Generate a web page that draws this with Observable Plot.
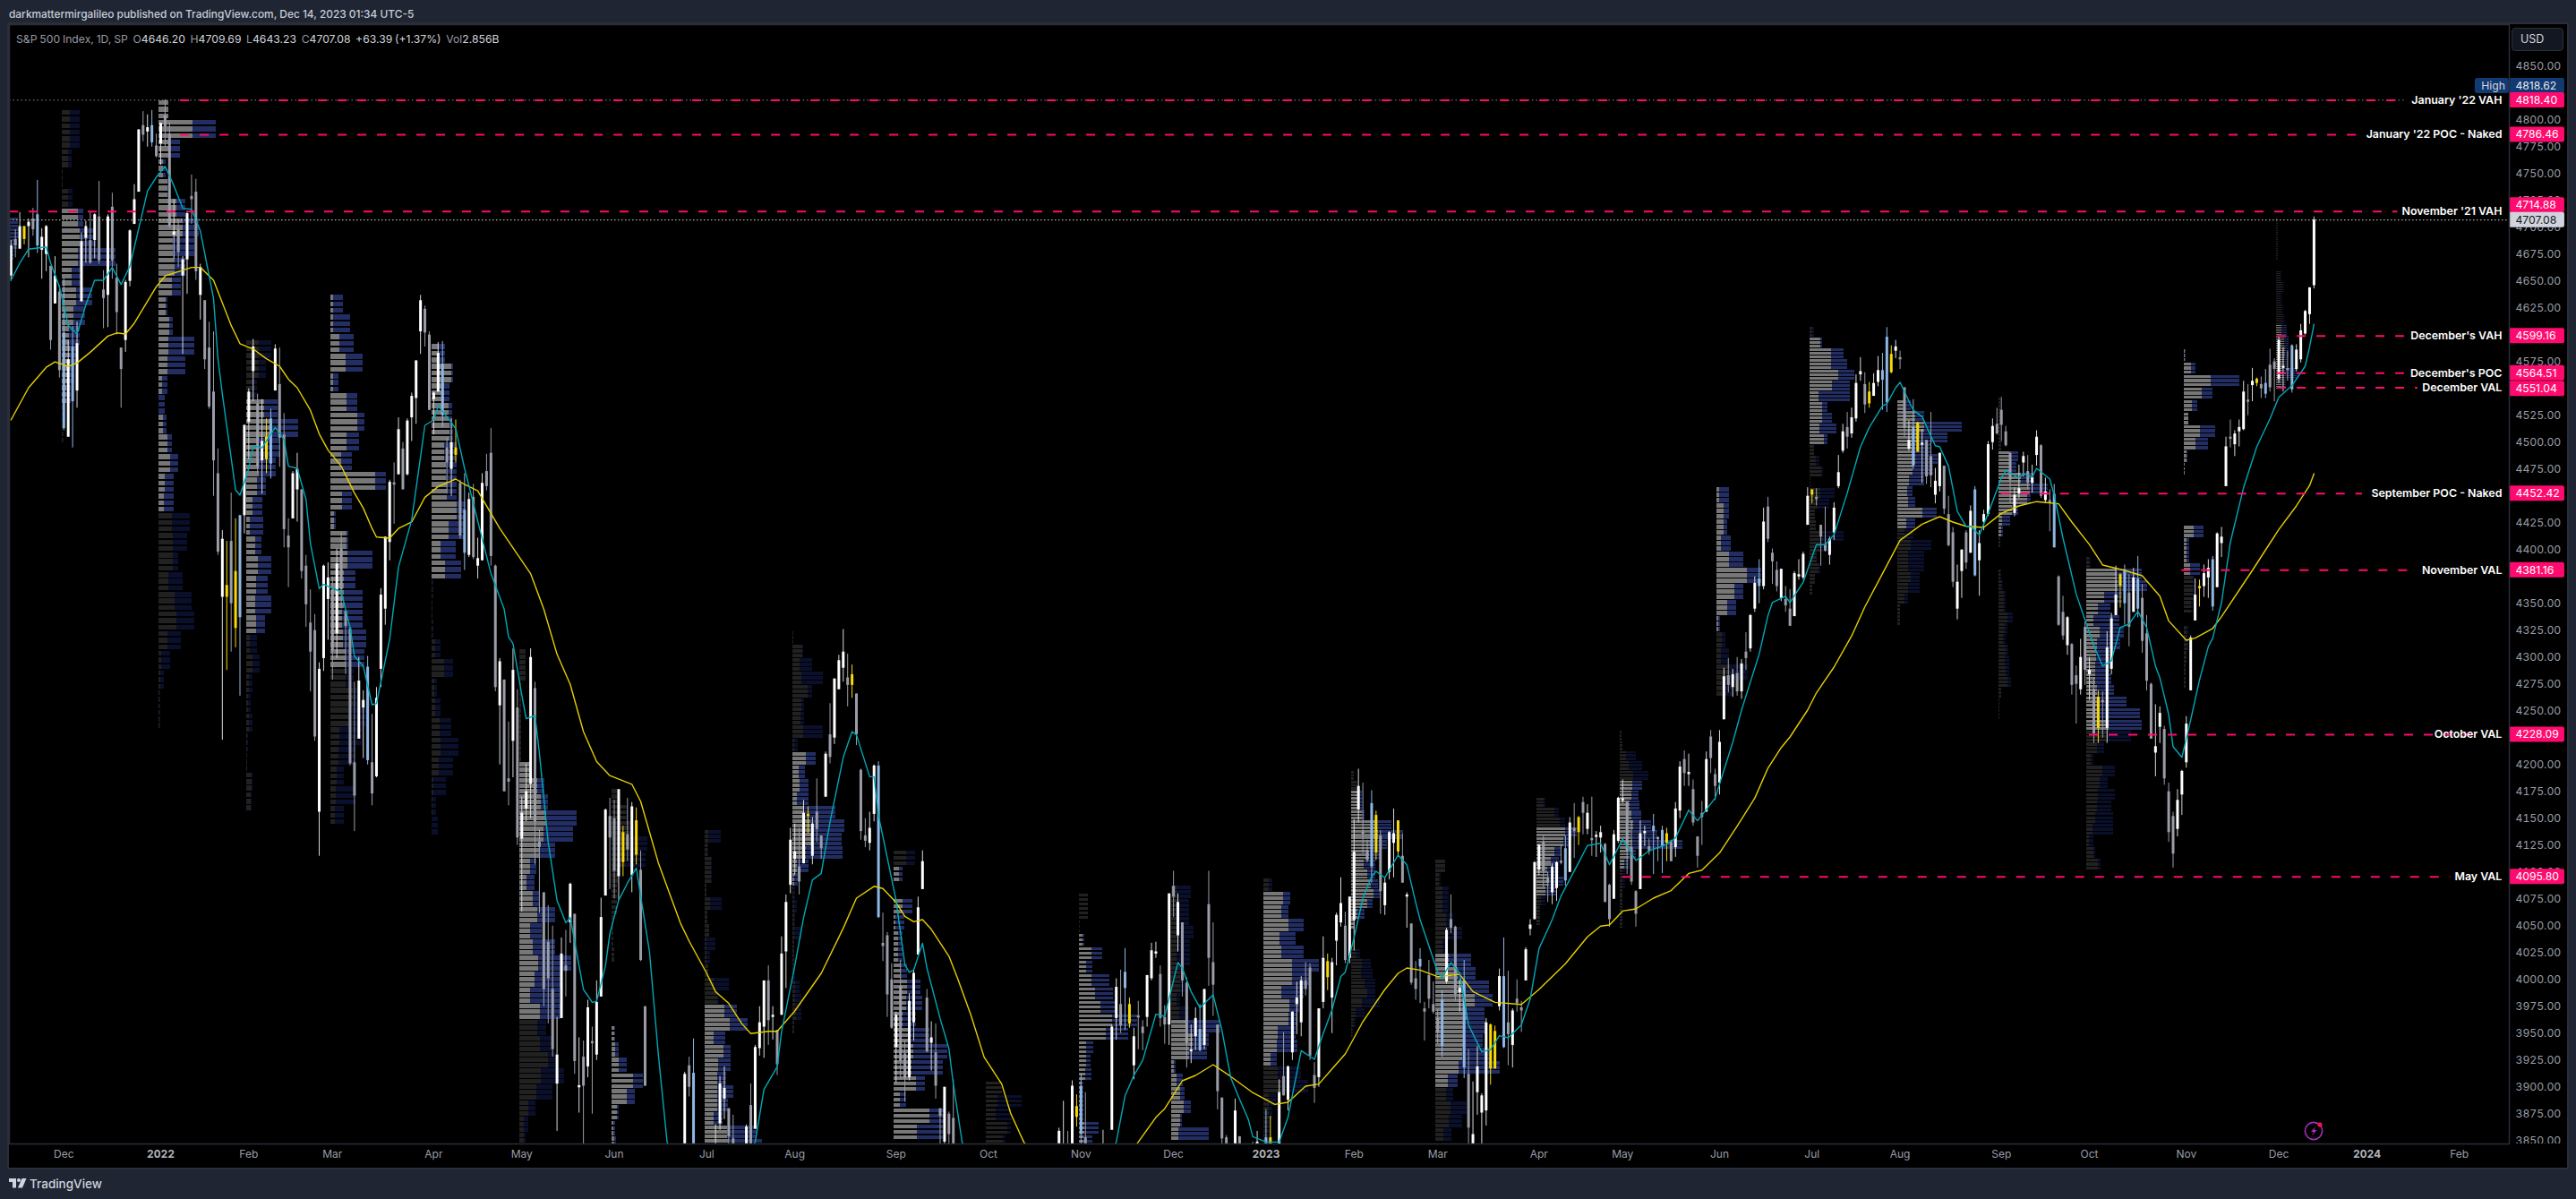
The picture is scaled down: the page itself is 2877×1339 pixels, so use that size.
<!DOCTYPE html>
<html><head><meta charset="utf-8">
<script src="https://cdn.jsdelivr.net/npm/d3@7"></script>
<script src="https://cdn.jsdelivr.net/npm/@observablehq/plot@0.6"></script>
<style>
html,body{margin:0;padding:0;background:#1f2533;width:2877px;height:1339px;overflow:hidden;font-family:Inter,sans-serif}
.abs{position:absolute;white-space:pre}
#chart svg{position:absolute;left:10px;top:27px;outline:2px solid #2a2e39;outline-offset:0}
.k{color:#9598a1}.v{color:#d1d4dc}
</style></head><body>
<div class="abs" style="left:10px;top:8px;font-size:11.9px;font-weight:500;color:#c9ccd6">darkmattermirgalileo published on TradingView.com, Dec 14, 2023 01:34 UTC-5</div>
<div id="chart"></div>
<div class="abs" style="left:18px;top:36px;font-size:12.2px;word-spacing:-0.6px"><span class="k">S&amp;P 500 Index, 1D, SP  O</span><span class="v">4646.20</span><span class="k">  H</span><span class="v">4709.69</span><span class="k">  L</span><span class="v">4643.23</span><span class="k">  C</span><span class="v">4707.08</span><span class="v">  +63.39 (+1.37%)</span><span class="k">  Vol</span><span class="v">2.856B</span></div>
<div class="abs" style="left:2805px;top:31px;width:58px;height:26px;box-sizing:border-box;background:#131722;border:1px solid #2a2e39;border-radius:4px;color:#d1d4dc;font-size:12.5px;line-height:24px;padding-left:9px">USD</div>
<svg class="abs" style="left:2572px;top:1251px" width="24" height="24" viewBox="0 0 24 24"><circle cx="12" cy="12" r="9.6" fill="none" stroke="#a62fb5" stroke-width="1.6"/><path d="M14 7 L9 13 H12 L10 17.5 L15.5 11 H12.5 Z" fill="#a62fb5"/><circle cx="19" cy="5" r="2.6" fill="#f7134f"/></svg>
<svg class="abs" style="left:10px;top:1316px" width="20" height="12" viewBox="0 0 20 12"><path d="M0 0H8V10.5H4V4H0Z" fill="#d1d4dc"/><circle cx="11" cy="2" r="2" fill="#d1d4dc"/><path d="M14.5 0H19.5L15 10.5H10Z" fill="#d1d4dc"/></svg>
<div class="abs" style="left:33px;top:1314px;font-size:13.5px;font-weight:500;color:#d1d4dc">TradingView</div>
<script>
// Daily candles, one small list per month: open, high, low, close
const m2111=[4655,4688,4650,4683,4689,4698,4672,4683,4680,4714,4680,4701,4701,4701,4684,4689,4701,4708,4672,4705,4708,4718,4692,4698,4712,4744,4676,4683,4679,4699,4652,4691,4675,4702,4659,4701,4664,4664,4586,4595,4629,4673,4629,4655,4640,4646,4560,4567];
const m2112=[4602,4652,4511,4513,4505,4595,4505,4577,4589,4608,4495,4538,4548,4612,4532,4592,4631,4695,4631,4687,4690,4706,4667,4701,4688,4714,4666,4667,4688,4713,4671,4712,4710,4743,4666,4669,4642,4660,4606,4634,4637,4712,4607,4710,4719,4732,4652,4669,4653,4666,4600,4621,4588,4588,4532,4568,4595,4651,4584,4649,4650,4698,4645,4697,4703,4740,4703,4726,4733,4791,4733,4791,4795,4808,4780,4786,4789,4805,4775,4793,4795,4809,4775,4779,4776,4787,4765,4766];
const m2201=[4778,4797,4758,4797,4804,4819,4775,4794,4787,4798,4699,4701,4693,4726,4671,4696,4698,4707,4663,4677,4655,4673,4582,4670,4670,4715,4638,4713,4729,4749,4703,4726,4733,4745,4651,4659,4637,4666,4614,4663,4632,4632,4568,4577,4588,4612,4531,4533,4547,4603,4450,4483,4471,4494,4395,4398,4356,4418,4223,4410,4367,4408,4288,4356,4408,4453,4305,4350,4380,4429,4309,4327,4337,4432,4264,4432,4432,4516,4415,4516];
const m2202=[4519,4550,4484,4547,4566,4596,4538,4589,4536,4545,4471,4477,4483,4540,4452,4501,4505,4522,4471,4484,4480,4531,4466,4522,4548,4591,4548,4587,4554,4588,4477,4504,4507,4527,4402,4419,4413,4429,4365,4402,4429,4473,4429,4471,4456,4490,4426,4475,4456,4456,4373,4380,4385,4395,4328,4349,4332,4363,4268,4305,4325,4340,4222,4226,4156,4295,4115,4289,4299,4386,4287,4385,4354,4388,4316,4374];
const m2203=[4363,4375,4279,4306,4322,4401,4299,4387,4401,4416,4345,4363,4343,4343,4284,4329,4327,4327,4199,4201,4202,4277,4138,4171,4224,4300,4224,4278,4253,4269,4206,4260,4291,4301,4200,4204,4202,4247,4162,4173,4189,4272,4188,4262,4289,4364,4272,4358,4345,4412,4330,4412,4407,4465,4390,4463,4462,4481,4424,4461,4470,4523,4470,4512,4494,4500,4456,4456,4470,4522,4469,4520,4523,4546,4501,4543,4541,4576,4517,4576,4603,4637,4582,4632,4624,4627,4589,4602,4600,4603,4530,4530];
const m2204=[4540,4547,4507,4546,4547,4593,4547,4583,4573,4594,4514,4525,4495,4504,4452,4481,4475,4522,4450,4500,4495,4521,4481,4488,4462,4465,4410,4413,4437,4471,4381,4397,4395,4453,4393,4447,4449,4461,4391,4393,4385,4411,4373,4392,4390,4471,4390,4462,4473,4489,4455,4459,4490,4513,4385,4394,4385,4386,4268,4272,4255,4299,4200,4296,4279,4279,4175,4175,4187,4240,4162,4184,4222,4308,4188,4288,4253,4270,4125,4132];
const m2205=[4131,4170,4063,4155,4159,4201,4147,4175,4182,4308,4150,4300,4271,4277,4107,4147,4128,4140,4062,4123,4081,4081,3975,3991,4035,4069,3959,4001,3991,4050,3928,3935,3903,3965,3859,3930,3964,4039,3964,4024,4013,4046,3984,4008,4053,4090,4034,4089,4061,4061,3912,3924,3900,3946,3876,3901,3928,3943,3810,3901,3919,3981,3909,3974,3942,3956,3875,3941,3930,3999,3925,3979,3984,4076,3984,4058,4078,4159,4078,4158,4152,4169,4084,4132];
const m2206=[4150,4167,4075,4101,4096,4177,4074,4177,4137,4143,4096,4109,4135,4169,4110,4121,4097,4165,4081,4161,4148,4160,4107,4116,4102,4120,4017,4018,3975,3975,3901,3901,3839,3839,3740,3750,3764,3778,3722,3735,3765,3837,3723,3790,3728,3728,3640,3667,3666,3707,3637,3675,3715,3780,3715,3765,3733,3802,3717,3760,3775,3809,3748,3796,3821,3914,3821,3912,3920,3928,3891,3900,3913,3945,3820,3822,3826,3836,3800,3819,3786,3818,3738,3785];
const m2207=[3781,3829,3752,3825,3793,3832,3742,3831,3831,3865,3811,3845,3866,3910,3860,3903,3889,3919,3870,3899,3880,3880,3847,3854,3852,3874,3802,3819,3763,3828,3759,3802,3764,3796,3722,3790,3820,3865,3817,3863,3883,3903,3818,3831,3861,3939,3861,3937,3936,3975,3929,3960,3956,3999,3927,3999,3999,4013,3939,3962,3965,3975,3944,3967,3953,3953,3911,3921,3967,4040,3967,4024,4026,4079,3992,4072,4088,4141,4080,4130];
const m2208=[4112,4145,4097,4119,4105,4141,4079,4091,4108,4167,4108,4155,4154,4161,4136,4152,4115,4151,4107,4145,4156,4187,4128,4140,4134,4134,4112,4122,4170,4212,4170,4210,4228,4257,4201,4207,4225,4280,4219,4280,4270,4302,4270,4297,4290,4326,4277,4305,4281,4303,4254,4274,4274,4293,4262,4284,4266,4266,4218,4228,4195,4196,4130,4138,4134,4150,4123,4129,4127,4156,4120,4141,4154,4200,4147,4199,4199,4203,4057,4058,4034,4062,4017,4031,4041,4044,3965,3986,4000,4015,3954,3955];
const m2209=[3937,3970,3904,3967,3994,4018,3907,3924,3931,3943,3886,3908,3909,3987,3906,3980,3960,4010,3943,4006,4023,4077,4023,4067,4084,4120,4084,4110,3983,3991,3932,3933,3941,3961,3915,3946,3932,3959,3889,3901,3880,3880,3837,3873,3849,3900,3838,3900,3875,3877,3828,3856,3871,3907,3789,3790,3783,3820,3750,3758,3727,3727,3647,3693,3683,3715,3644,3655,3687,3718,3624,3647,3651,3736,3640,3719,3687,3687,3611,3640,3634,3672,3585,3586];
const m2210=[3610,3698,3604,3678,3726,3791,3726,3791,3753,3807,3722,3783,3771,3797,3742,3745,3707,3710,3631,3640,3647,3653,3588,3612,3595,3640,3568,3589,3590,3606,3570,3577,3521,3685,3491,3670,3691,3713,3583,3583,3638,3689,3638,3678,3746,3762,3687,3720,3703,3728,3666,3695,3689,3737,3656,3666,3657,3758,3647,3753,3752,3800,3709,3797,3799,3862,3799,3859,3825,3887,3824,3831,3835,3859,3804,3807,3808,3906,3804,3901,3882,3893,3863,3872];
const m2211=[3901,3912,3844,3856,3853,3895,3759,3760,3734,3750,3698,3720,3767,3796,3708,3771,3780,3814,3772,3807,3818,3860,3786,3828,3829,3830,3746,3749,3860,3958,3860,3956,3964,4001,3944,3993,3977,4009,3950,3957,4007,4029,3953,3992,3977,3983,3955,3959,3920,3955,3907,3947,3966,3980,3935,3965,3956,3962,3934,3950,3965,4004,3956,4004,4001,4034,3999,4027,4024,4035,4020,4026,4005,4013,3956,3964,3965,3976,3940,3958,3958,4080,3939,4080];
const m2212=[4087,4101,4058,4077,4041,4080,4026,4072,4053,4053,3984,3999,3997,4002,3918,3941,3934,3958,3922,3934,3947,3974,3934,3964,3954,3977,3933,3934,3939,3991,3935,3991,4070,4101,3994,4020,4016,4053,3966,3995,3958,3958,3879,3896,3890,3890,3828,3852,3853,3855,3800,3818,3810,3839,3796,3822,3839,3889,3839,3878,3854,3854,3765,3822,3816,3846,3796,3845,3843,3846,3798,3829,3829,3849,3781,3783,3805,3859,3805,3849,3829,3840,3801,3840];
const m2301=[3853,3879,3795,3824,3840,3873,3815,3853,3840,3840,3803,3808,3823,3907,3803,3895,3910,3951,3892,3892,3888,3920,3878,3919,3932,3970,3925,3970,3977,3998,3949,3983,3960,4003,3947,3999,3999,4016,3985,3991,4011,4015,3925,3929,3911,3923,3885,3899,3909,3973,3900,3973,3979,4040,3973,4020,4002,4024,3990,4017,3983,4020,3950,4016,4036,4062,4013,4060,4053,4095,4049,4071,4050,4063,4015,4018,4020,4077,4015,4077];
const m2302=[4055,4149,4027,4119,4158,4196,4146,4180,4137,4183,4117,4136,4120,4130,4109,4111,4105,4176,4090,4164,4153,4157,4111,4118,4134,4139,4061,4082,4069,4095,4060,4090,4100,4138,4093,4137,4127,4159,4095,4136,4119,4148,4114,4148,4115,4136,4090,4090,4077,4081,4048,4079,4052,4052,3995,3997,4001,4017,3981,3991,4019,4029,3978,4012,3973,3979,3943,3970,4004,4018,3973,3982,3977,3998,3968,3970];
const m2303=[3964,3972,3940,3951,3938,3990,3928,3981,3998,4048,3996,4046,4056,4079,4043,4048,4049,4050,3980,3986,3988,4000,3970,3992,3999,4018,3908,3918,3912,3935,3847,3862,3835,3905,3809,3856,3895,3938,3874,3919,3876,3894,3838,3892,3878,3964,3864,3960,3958,3959,3902,3917,3917,3957,3917,3952,3975,4010,3971,4003,4003,4039,3936,3937,3960,4008,3920,3949,3939,3973,3918,3971,3982,4000,3970,3978,3974,3980,3951,3971,3999,4030,3999,4028,4047,4056,4041,4051,4056,4110,4056,4109];
const m2304=[4102,4126,4097,4125,4128,4134,4086,4101,4094,4100,4072,4090,4081,4108,4070,4105,4085,4110,4073,4109,4110,4125,4107,4109,4122,4134,4087,4092,4100,4151,4100,4146,4141,4164,4113,4138,4137,4152,4125,4151,4165,4170,4135,4155,4140,4163,4135,4155,4131,4170,4115,4130,4133,4138,4114,4134,4132,4143,4118,4137,4126,4127,4072,4072,4088,4089,4049,4056,4075,4139,4075,4135,4129,4170,4127,4169];
const m2305=[4167,4186,4164,4168,4165,4165,4098,4120,4123,4148,4088,4091,4082,4083,4049,4061,4084,4148,4084,4136,4136,4143,4124,4138,4124,4131,4116,4119,4143,4154,4098,4138,4132,4133,4110,4131,4139,4143,4099,4124,4127,4141,4110,4136,4128,4130,4110,4110,4123,4165,4114,4159,4157,4203,4150,4198,4205,4213,4180,4192,4191,4210,4180,4193,4177,4186,4143,4146,4133,4133,4104,4115,4155,4166,4125,4151,4156,4212,4156,4205,4226,4232,4192,4206,4191,4196,4167,4180];
const m2306=[4183,4232,4172,4221,4242,4290,4242,4282,4283,4299,4267,4274,4272,4289,4263,4284,4285,4300,4264,4268,4268,4298,4261,4294,4305,4323,4288,4299,4308,4340,4305,4339,4345,4375,4342,4369,4366,4391,4350,4373,4366,4439,4363,4426,4440,4449,4407,4410,4397,4401,4368,4389,4381,4389,4361,4366,4355,4382,4352,4382,4354,4366,4342,4348,4345,4363,4329,4329,4338,4380,4338,4378,4375,4391,4372,4377,4374,4398,4372,4396,4423,4458,4423,4450];
const m2307=[4451,4456,4443,4456,4449,4457,4441,4447,4423,4423,4385,4412,4405,4440,4398,4399,4395,4412,4386,4410,4416,4444,4409,4439,4459,4488,4457,4472,4492,4517,4490,4510,4514,4528,4494,4505,4508,4532,4504,4523,4522,4563,4519,4555,4563,4579,4557,4566,4554,4565,4527,4535,4547,4556,4532,4536,4543,4564,4543,4555,4556,4580,4552,4567,4558,4583,4530,4567,4598,4607,4528,4537,4565,4590,4564,4582,4585,4595,4578,4589];
const m2308=[4579,4585,4568,4577,4551,4551,4505,4513,4494,4520,4492,4502,4514,4540,4475,4478,4491,4519,4491,4518,4498,4512,4462,4499,4502,4502,4461,4468,4487,4528,4458,4469,4451,4476,4443,4464,4459,4490,4454,4490,4478,4478,4433,4438,4433,4450,4403,4404,4416,4421,4365,4370,4345,4386,4335,4370,4380,4400,4355,4400,4416,4418,4382,4388,4397,4441,4397,4436,4456,4459,4375,4376,4390,4418,4357,4406,4426,4437,4418,4433,4433,4501,4431,4498,4500,4522,4493,4515,4517,4532,4507,4508];
const m2309=[4530,4542,4501,4516,4510,4515,4496,4497,4490,4491,4443,4465,4434,4458,4431,4451,4452,4479,4448,4457,4481,4491,4468,4487,4473,4488,4456,4462,4462,4479,4453,4467,4488,4511,4478,4505,4497,4498,4448,4450,4446,4467,4443,4454,4446,4456,4417,4444,4452,4461,4402,4402,4375,4376,4329,4330,4342,4357,4316,4320,4311,4338,4302,4337,4312,4313,4265,4274,4283,4292,4238,4275,4270,4317,4265,4300,4328,4333,4274,4288];
const m2310=[4284,4300,4260,4288,4270,4281,4220,4229,4234,4269,4220,4263,4260,4268,4225,4258,4234,4324,4220,4309,4289,4341,4284,4336,4339,4385,4339,4358,4366,4378,4346,4377,4381,4386,4330,4350,4360,4377,4310,4328,4342,4383,4342,4374,4345,4394,4337,4373,4355,4368,4304,4315,4322,4339,4269,4278,4275,4276,4224,4224,4211,4256,4189,4217,4235,4254,4220,4248,4233,4236,4181,4187,4175,4183,4128,4137,4152,4156,4104,4117,4140,4177,4133,4167,4172,4195,4153,4194];
const m2311=[4202,4245,4197,4238,4269,4320,4269,4318,4334,4373,4334,4358,4364,4372,4347,4366,4366,4386,4356,4378,4374,4391,4355,4383,4391,4394,4343,4347,4365,4416,4365,4415,4406,4421,4393,4412,4459,4505,4459,4496,4505,4521,4495,4503,4498,4511,4487,4508,4510,4521,4496,4514,4512,4557,4511,4547,4539,4554,4525,4538,4553,4569,4538,4557,4555,4560,4552,4559,4554,4561,4541,4550,4545,4568,4541,4555,4572,4587,4547,4551,4575,4578,4538,4568];
const m2312=[4559,4599,4555,4595,4570,4588,4547,4570,4569,4585,4557,4567,4590,4591,4546,4549,4568,4591,4566,4586,4577,4610,4574,4604,4601,4623,4600,4622,4619,4644,4610,4644,4646,4710,4643,4707];
const monthBars=[m2111,m2112,m2201,m2202,m2203,m2204,m2205,m2206,m2207,m2208,m2209,m2210,m2211,m2212,m2301,m2302,m2303,m2304,m2305,m2306,m2307,m2308,m2309,m2310,m2311,m2312];
const monthLabels=["","Dec","2022","Feb","Mar","Apr","May","Jun","Jul","Aug","Sep","Oct","Nov","Dec","2023","Feb","Mar","Apr","May","Jun","Jul","Aug","Sep","Oct","Nov","Dec"];
const futureTicks=[501,522], futureLabels=["2024","Feb"];
const firstBar=-34;
const blueBars=[-28,-22,-20,-2,18,25,47,64,69,121,163,209,219,236,251,275,286,291,296,305,319,339,341,363,391,392,398,412,430,446,449,466,478,484];
const yellowBars=[-31,15,17,24,67,105,108,147,157,208,220,252,265,276,281,302,303,322,342,375,388,393,399,440,445,463,476];

// Yellow moving average
const slowBar=[-34,-30,-26,-24,-21,-19,-16,-12,-10,-8,-6,-1,1,4,7,9,12,16,18,21,24,27,29,31,34,36,38,41,44,46,48,49,52,54,57,60,63,67,69,72,77,84,87,90,93,96,99,102,107,109,113,118,120,124,126,129,132,134,138,140,144,150,155,158,162,164,167,169,171,173,175,179,181,184,187,191,193,196,210,222,226,228,230,232,235,239,243,248,253,256,260,263,266,269,273,276,278,281,283,286,290,295,298,303,309,313,319,324,327,329,332,335,339,343,347,350,354,358,362,365,368,370,374,376,380,384,387,391,395,400,404,407,410,414,418,422,426,431,434,438,441,446,450,454,456,460,462,466,468,475,481,485,488,489];
const slowVal=[4521,4551,4570,4575,4571,4574,4584,4599,4602,4601,4611,4645,4655,4659,4663,4663,4651,4609,4592,4587,4578,4571,4559,4551,4530,4508,4493,4478,4453,4439,4420,4412,4411,4420,4426,4449,4459,4466,4461,4455,4420,4378,4345,4303,4275,4231,4203,4190,4182,4166,4109,4053,4036,4006,3989,3978,3959,3950,3952,3952,3971,4006,4048,4076,4087,4085,4072,4059,4054,4056,4047,4022,4001,3967,3928,3903,3876,3849,3780,3849,3872,3880,3893,3906,3911,3921,3910,3895,3884,3886,3901,3903,3917,3931,3961,3979,3991,4006,4011,4009,4003,4005,3989,3979,3977,3991,4015,4040,4050,4051,4064,4066,4076,4083,4099,4102,4118,4143,4169,4197,4216,4226,4251,4267,4291,4320,4347,4378,4409,4424,4431,4426,4422,4421,4434,4441,4445,4443,4426,4405,4386,4381,4376,4357,4334,4316,4318,4327,4338,4381,4419,4441,4460,4471];

// Teal moving average
const fastBar=[-34,-32,-30,-26,-25,-23,-21,-19,-17,-15,-13,-11,-9,-7,-3,-1,1,3,5,7,9,12,13,14,17,18,20,21,23,26,28,29,31,33,34,36,37,41,43,44,46,48,49,52,54,57,60,62,63,65,67,69,75,78,79,80,82,83,85,86,88,90,92,93,96,98,99,101,102,104,106,108,111,113,115,125,135,137,140,141,144,146,148,150,152,155,157,158,161,162,163,167,169,170,171,173,174,177,179,180,182,200,217,219,221,223,226,228,231,232,234,236,239,241,243,245,247,248,251,254,256,259,262,264,266,268,269,271,273,275,276,278,281,283,285,286,290,291,293,295,297,300,302,304,306,309,311,313,316,318,322,324,327,329,332,335,338,342,344,347,349,353,354,357,359,363,365,366,369,370,373,376,378,380,383,386,388,391,392,394,395,398,400,403,404,406,408,410,411,413,415,418,419,422,423,425,426,429,430,432,435,437,439,441,443,445,447,449,451,453,454,456,457,459,461,463,465,466,468,470,473,476,479,481,484,487,488,489];
const fastVal=[4651,4667,4680,4682,4667,4645,4609,4601,4628,4651,4651,4663,4647,4664,4734,4747,4757,4739,4718,4717,4697,4634,4578,4545,4456,4451,4476,4497,4495,4514,4503,4478,4476,4447,4406,4364,4368,4361,4328,4301,4292,4256,4257,4317,4384,4428,4516,4521,4534,4524,4513,4476,4378,4345,4319,4313,4265,4243,4246,4211,4128,4074,4053,4058,3991,3979,3980,4013,4043,4074,4090,4104,4026,3931,3849,3760,3849,3898,3919,3952,4013,4058,4093,4099,4147,4207,4231,4228,4189,4189,4153,4074,4014,4007,4009,4034,4011,3964,3936,3903,3849,3700,3849,3892,3911,3925,3968,3966,4016,4011,3989,3974,3986,3953,3909,3889,3870,3854,3849,3849,3872,3934,3926,3950,3972,4003,4007,4039,4076,4096,4101,4095,4116,4107,4072,4056,4007,4002,4016,4006,3958,3933,3935,3948,3946,3958,3982,4029,4056,4078,4109,4125,4127,4107,4131,4111,4120,4126,4132,4158,4148,4169,4182,4221,4251,4303,4339,4351,4357,4351,4370,4405,4405,4414,4453,4496,4514,4534,4536,4551,4556,4530,4524,4497,4496,4478,4436,4422,4422,4414,4434,4467,4474,4467,4471,4468,4476,4466,4451,4411,4359,4335,4311,4292,4297,4328,4331,4343,4328,4292,4281,4247,4217,4207,4242,4279,4310,4318,4351,4407,4458,4496,4522,4542,4553,4571,4589,4610];

// Monthly volume profiles, top row first: grey volume and the total with the blue part
const profileStart=[-34.4,-22.4,-0.4,19.5,38.6,61.6,81.5,102.5,123.6,143.6,166.5,187.5,208.6,229.6,250.5,270.4,289.6,312.5,331.4,353.4,374.5,394.5,417.4,437.4,459.5,480.5];
const profileTop=[4709,4809,4818,4595,4637,4591,4307,4177,4139,4324,4120,3905,4080,4087,4094,4194,4111,4169,4231,4458,4607,4539,4541,4393,4586,4709];
const profileRow=[10,18.3,18.3,18.3,18.3,18.3,15,14.7,12.5,12.5,15,12.5,12.5,12.5,12.5,9.2,12.5,9.2,9.2,15,10,10,10,10.8,11.7,10];
const profileStripes=[3,3,3,3,3,3,3,3,3,3,3,3,3,3,3,3,3,3,3,3,3,3,3,3,3,6];
const valueFrom=[0,5,0,3,0,0,7,15,13,9,1,0,3,10,1,2,7,3,5,0,1,0,5,1,0,10];
const valueTo=[4,15,21,15,19,12,23,23,24,19,18,0,19,19,14,16,17,10,14,9,11,12,13,15,18,16];
const profileGrey=[
[0,0,0,0],
[9,9,7,1,7,18,20,18,11,16,13,8,9,8,5,2,1],
[11,38,12,5,10,20,27,16,18,15,8,12,11,10,4,0,5,10,13,7,6,15,16,16,11,18,20,10,3,2,1,1],
[14,14,7,20,28,14,14,12,7,4,10,13,11,10,11,4,7,3,2,3,1,1,6,5],
[3,3,10,17,3,18,30,18,12,50,13,4,18,19,15,15,13,14,17,17,25,22,10,9,7,6,5],
[8,22,14,19,20,14,16,17,28,19,10,15,1,1,1,4,14,3,4,9,10,8,2,1,0],
[7,7,2,2,2,2,2,12,20,24,30,27,22,12,8,15,20,12,15,21,17,12,23,20,23,32,24,19,10,5,5],
[6,16,20,20,15,7,6,6,2,2,3,0,0,0,0,3,4,8,24,17,6,2,3],
[4,3,7,7,2,6,3,5,2,2,4,10,14,22,28,10,21,15,14,14,14,10,25,27],
[1,11,8,10,17,10,9,12,2,15,7,8,5,13,20,22,15,5,2,1,2,2,2,2,2,1,3,3,4,2],
[14,6,0,10,2,5,5,8,15,14,10,17,22,20,25,7,40,26],
[18,13,11,24,19],
[10,10,1,4,14,8,14,18,24,37,30,8,8,7,3,3,3,6,5],
[6,8,8,8,8,6,10,10,6,9,18,24,20,3,6,10,14,10,8],
[6,22,20,28,18,20,32,32,20,29,28,16,15,8,16,20,6,6,5,4],
[3,6,8,8,12,28,30,25,20,14,18,22,25,18,7,3,0,0,6,12,11,15,18,12,5,3,1],
[11,4,8,8,12,15,8,15,25,33,44,35,32,33,30,26,14,12,17,15,9],
[8,20,26,32,30,20,16,12,14,10,5,4,4],
[2,3,7,10,15,14,13,11,13,15,12,14,10,5,3,3,3,3,3,3],
[3,8,8,5,14,34,20,12,2,6,5,15,6],
[3,12,24,24,32,25,10,14,14,11,16,5,7,13,1,12,9,6,7,15,12,8,10,6,3],
[7,20,30,22,20,20,17,13,11,12,28,10,8,15,12,12,15,12,8,3,3],
[2,2,2,2,3,12,14,25,35,32,15,4,3,2,0,0,2,3,6,6,10,7,5,8,7,8,10,3,1,1],
[3,34,35,20,13,8,15,12,11,10,10,12,15,13,25,22,12,5,18,15,13,12,10,7,3,8,13],
[1,8,30,20,9,5,18,13,3,1,0,0,0,0,11,3,3,7,10,10,8,0,3,4,3,2,2],
[2,2,2,2,0,5,7,5,6,8,6,9,10,9,8,6]];
const profileTotal=[
[10,12,9,5],
[20,20,11,1,12,24,38,60,21,34,26,20,18,14,10,4,2],
[8,64,24,8,12,30,45,40,30,25,10,16,40,30,10,7,9,15,22,17,17,35,32,22,27,37,40,25,13,6,2,2],
[28,22,12,35,58,38,33,22,18,19,17,28,24,28,21,12,15,7,5,7,2,1,7,6],
[14,22,26,36,9,30,38,32,24,62,24,6,20,47,28,36,36,40,38,26,30,40,35,28,15,28,15],
[15,24,20,23,24,28,28,28,38,38,27,33,2,1,2,10,24,6,10,22,30,24,16,5,7],
[7,7,2,2,2,2,2,12,28,32,64,60,40,19,17,22,40,25,40,58,47,45,46,30,36,40,50,37,18,10,7],
[6,18,22,40,38,8,6,6,2,2,3,0,0,0,0,4,8,17,35,26,8,4,5],
[18,4,8,8,2,19,3,5,12,6,4,27,16,36,48,23,29,29,24,32,26,20,58,64],
[1,12,22,34,22,13,13,34,6,26,14,18,18,48,58,55,56,18,6,3,5,3,10,2,2,3,8,10,10,2],
[24,10,0,21,12,10,10,15,30,32,25,40,60,55,35,14,58,55],
[18,40,29,28,22],
[10,10,1,6,26,15,34,38,42,65,55,16,13,14,5,5,5,22,15],
[22,20,20,25,21,21,15,15,10,20,55,42,40,5,13,15,22,12,42],
[10,30,28,45,36,45,62,52,45,40,38,36,38,15,42,50,14,10,7,6],
[3,8,12,12,15,45,58,40,32,27,27,30,33,24,15,3,0,0,10,22,24,27,27,32,15,5,2],
[11,6,15,15,20,30,12,40,45,60,64,55,56,53,60,72,25,20,35,30,18],
[10,25,32,45,36,28,25,25,30,22,10,4,4],
[2,3,18,25,32,25,21,22,24,35,42,70,18,10,6,6,3,3,3,3],
[14,14,12,16,30,50,30,22,4,10,14,35,18],
[5,14,38,42,50,45,45,20,25,30,20,5,11,15,1,28,22,6,7,38,25,8,12,6,3],
[15,30,72,56,38,45,40,30,17,20,44,20,18,38,30,30,25,25,12,3,3],
[2,2,2,2,3,22,20,40,55,36,22,13,5,2,0,0,3,5,8,8,16,10,8,11,12,12,14,3,1,1],
[5,62,68,40,27,37,42,38,26,26,28,31,45,60,62,50,20,8,32,24,32,28,30,30,8,10,16],
[2,13,62,32,15,5,35,27,4,1,0,0,0,0,22,6,6,18,12,12,10,0,5,5,3,2,2],
[2,2,2,2,0,6,9,7,8,10,12,14,14,13,24,11]];

// Price levels drawn on the chart
const levelPrice=[4818.40,4786.46,4714.88,4599.16,4564.51,4551.04,4452.42,4381.16,4228.09,4095.80];
const levelName=["January '22 VAH","January '22 POC - Naked","November '21 VAH","December's VAH","December's POC","December VAL","September POC - Naked","November VAL","October VAL","May VAL"];
const levelFrom=[4.5,4.5,-34.36,480.7,480.7,480.7,418,459,438,332];
const levelTo=[510,499,508,510,510,512.6,500,512.6,526,520];
const levelTagPrice=[4818.4,4786.46,4720.8,4599.16,4564.51,4550,4452.42,4381.16,4228.09,4095.8];
const highPrice=4818.62, highTagPrice=4831.8, lastPrice=4707.08;
// Axis labels the reference hides entirely behind a price tag are left out
const coveredTicks=[4825,4600,4550,4450,4375,4225];
const priceTicks=d3.range(3850,4851,25).filter(t=>!coveredTicks.includes(t));

// Chart geometry
const barsPerUnit=1/4.918;
const xMin=-34.36,xMax=533.35,yMax=4888.9,yMin=3847.25;
const tagBars=12.6, tagHalf=7.1, tagPad=1.4;

const bars=[],monthTicks=new Map(),yearTicks=new Map();
let idx=firstBar;
monthBars.forEach((list,m)=>{
  const lab=monthLabels[m];
  if(lab) (/^\d{4}$/.test(lab)?yearTicks:monthTicks).set(idx,lab);
  for(let k=0;k<list.length;k+=4){
    const [o,h,l,c]=list.slice(k,k+4);
    const col=yellowBars.includes(idx)?"#f7d90a":blueBars.includes(idx)?"#8fb6e4":c>=o?"#ffffff":"#9a9da8";
    const top=Math.max(o,c),bot=Math.min(o,c),gap=top-bot<2?(2-top+bot)/2:0;
    bars.push({i:idx,h,l,top:top+gap,bot:bot-gap,col,wick:col==="#ffffff"?"#d8d8d8":col});
    idx++;
  }
});
futureTicks.forEach((t,n)=>{const lab=futureLabels[n];(/^\d{4}$/.test(lab)?yearTicks:monthTicks).set(t,lab);});

const stripes=[];
profileGrey.forEach((rows,p)=>{
  const st=profileStripes[p],rh=profileRow[p];
  rows.forEach((g,r)=>{
    const b=profileTotal[p][r],bright=r>=valueFrom[p]&&r<valueTo[p];
    for(let s=0;s<st;s++){
      const y1=profileTop[p]-(r+s/st)*rh,y2=y1-rh/st*0.74;
      const x0=profileStart[p];
      if(g>0)stripes.push({x1:x0,x2:x0+g*barsPerUnit,y1,y2,f:bright?"#777777":"#212121"});
      if(b>g)stripes.push({x1:x0+g*barsPerUnit,x2:x0+b*barsPerUnit,y1,y2,f:bright?"#222e63":"#0a0f2c"});
    }
  });
});
const slow=slowBar.map((x,n)=>({x,y:slowVal[n]}));
const fast=fastBar.map((x,n)=>({x,y:fastVal[n]}));
const levels=levelPrice.map((p,n)=>({p,name:levelName[n],from:levelFrom[n],to:levelTo[n],tag:levelTagPrice[n]}));
const AXIS="#9a9da8";

const chart=Plot.plot({
  width:2857,height:1277,marginLeft:0,marginRight:65,marginTop:0,marginBottom:27,
  x:{type:"linear",domain:[xMin,xMax]},
  y:{type:"linear",domain:[yMin,yMax]},
  color:{type:"identity"},
  style:{background:"#000",color:AXIS,fontFamily:"Inter,sans-serif",overflow:"visible"},
  marks:[
    Plot.axisY(priceTicks,{anchor:"right",tickSize:0,tickPadding:7,tickFormat:d=>d.toFixed(2),fontSize:12.2,fill:AXIS,label:null}),
    Plot.rect([0],{x1:xMax,x2:xMax+tagBars+1,y1:yMin,y2:yMin-6,fill:"#000"}),
    Plot.axisX([...monthTicks.keys()],{anchor:"bottom",tickSize:0,tickPadding:7,tickFormat:d=>monthTicks.get(d),fontSize:12,fill:AXIS,label:null}),
    Plot.axisX([...yearTicks.keys()],{anchor:"bottom",tickSize:0,tickPadding:7,tickFormat:d=>yearTicks.get(d),fontSize:12,fontWeight:700,fill:"#b2b5be",label:null}),
    Plot.rect(stripes,{x1:"x1",x2:"x2",y1:"y1",y2:"y2",fill:"f",clip:true,shapeRendering:"crispEdges"}),
    Plot.ruleX(bars,{x:"i",y1:"l",y2:"h",stroke:"wick",strokeWidth:1,clip:true}),
    Plot.ruleX(bars,{x:"i",y1:"bot",y2:"top",stroke:"col",strokeWidth:3,clip:true}),
    Plot.line(slow,{x:"x",y:"y",stroke:"#e6cf00",strokeWidth:1.4,clip:true}),
    Plot.line(fast,{x:"x",y:"y",stroke:"#00a8b8",strokeWidth:1.4,clip:true}),
    Plot.ruleY([lastPrice],{x1:xMin,x2:xMax,stroke:"#d8d8d8",strokeWidth:1,strokeDasharray:"1.5 2.5"}),
    Plot.ruleY([highPrice],{x1:xMin,x2:510,stroke:"#8a8a8a",strokeWidth:1,strokeDasharray:"1.5 3"}),
    Plot.ruleY(levels,{y:"p",x1:"from",x2:"to",stroke:"#ff0a6e",strokeWidth:2,strokeDasharray:"10 12"}),
    Plot.text(levels,{x:531.7,y:"p",text:"name",textAnchor:"end",fill:"#fff",fontSize:12.4,fontWeight:600}),
    Plot.rect([highTagPrice],{x1:525.6,x2:xMax,y1:d=>d-tagHalf,y2:d=>d+tagHalf,fill:"#123a72",rx:3}),
    Plot.text([highTagPrice],{x:527,y:d=>d,text:()=>"High",textAnchor:"start",fill:"#d1d4dc",fontSize:12.2}),
    Plot.rect([highTagPrice],{x1:xMax,x2:xMax+tagBars,y1:d=>d-tagHalf,y2:d=>d+tagHalf,fill:"#123a72",rx:2}),
    Plot.text([highTagPrice],{x:xMax+tagPad,y:d=>d,text:()=>highPrice.toFixed(2),textAnchor:"start",fill:"#e6e8ee",fontSize:12.2}),
    Plot.rect(levels,{x1:xMax,x2:xMax+tagBars,y1:d=>d.tag-tagHalf,y2:d=>d.tag+tagHalf,fill:"#ff0a6e",rx:2}),
    Plot.text(levels,{x:xMax+tagPad,y:"tag",text:d=>d.p.toFixed(2),textAnchor:"start",fill:"#fff",fontSize:12.2}),
    Plot.rect([lastPrice],{x1:xMax,x2:xMax+tagBars,y1:d=>d-tagHalf,y2:d=>d+tagHalf,fill:"#d1d4dc",rx:2}),
    Plot.text([lastPrice],{x:xMax+tagPad,y:d=>d,text:d=>d.toFixed(2),textAnchor:"start",fill:"#131722",fontSize:12.2}),
    Plot.frame({stroke:"#2a2e39",strokeWidth:1.5})
  ]
});
document.getElementById("chart").appendChild(chart);
</script>
</body></html>
